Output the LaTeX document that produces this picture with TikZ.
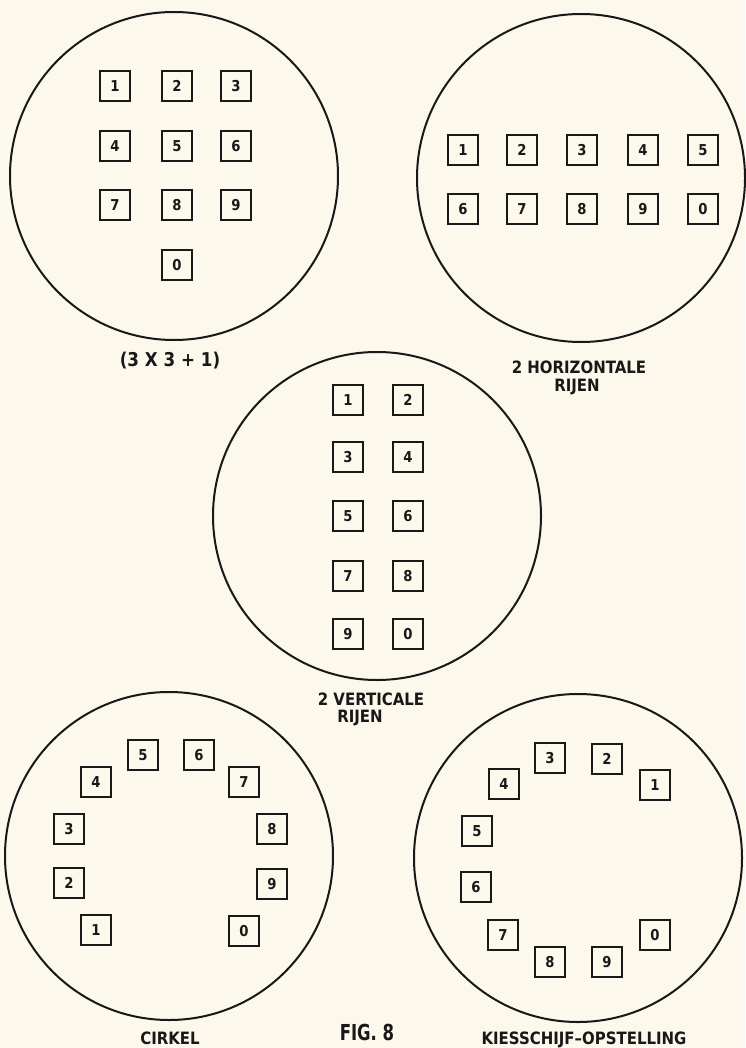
\documentclass[tikz,border=0pt]{standalone}
\usepackage{fontspec}
\setmainfont{DejaVu Sans}
\newfontfamily\lblfont{DejaVu Sans}[FakeStretch=0.88]
\newfontfamily\figfont{DejaVu Sans}[FakeStretch=0.75]
\definecolor{paper}{RGB}{252,248,236}
\definecolor{ink}{RGB}{24,24,24}
\begin{document}
\begin{tikzpicture}[x=1pt,y=-1pt,
  dial/.style={circle, draw=ink, line width=2pt, minimum size=328pt, inner sep=0pt},
  key/.style={rectangle, draw=ink, line width=2pt, minimum size=30pt, inner sep=0pt, text=ink, font=\lblfont\bfseries\fontsize{15}{15}\selectfont},
  lbl/.style={text=ink, inner sep=0pt, font=\lblfont\bfseries\fontsize{17}{17}\selectfont},
  figlbl/.style={text=ink, inner sep=0pt, font=\figfont\bfseries\fontsize{22}{22}\selectfont}]
\path[use as bounding box, fill=paper] (0,0) rectangle (745,1048);

% --- 3x3+1 ---
\node[dial] (c1) at (174,176) {};
\node[key] (a1) at (115,86) {1};
\node[key] (a2) at (177,86) {2};
\node[key] (a3) at (236,86) {3};
\node[key] (a4) at (115,146) {4};
\node[key] (a5) at (177,146) {5};
\node[key] (a6) at (236,146) {6};
\node[key] (a7) at (115,205) {7};
\node[key] (a8) at (177,205) {8};
\node[key] (a9) at (236,205) {9};
\node[key] (a0) at (177,265) {0};
\node[lbl, font=\lblfont\bfseries\fontsize{19}{19}\selectfont] (l1) at (170,361) {(3 X 3 + 1)};

% --- 2 horizontale rijen ---
\node[dial] (c2) at (581,178) {};
\node[key] (b1) at (463,150) {1};
\node[key] (b2) at (522,150) {2};
\node[key] (b3) at (582,150) {3};
\node[key] (b4) at (643,150) {4};
\node[key] (b5) at (703,150) {5};
\node[key] (b6) at (463,209) {6};
\node[key] (b7) at (522,209) {7};
\node[key] (b8) at (582,209) {8};
\node[key] (b9) at (643,209) {9};
\node[key] (b0) at (703,209) {0};
\node[lbl] (l2a) at (579,367) {2 HORIZONTALE};
\node[lbl] (l2b) at (577,387) {RIJEN};

% --- 2 verticale rijen ---
\node[dial] (c3) at (377,516) {};
\node[key] (d1) at (348,400) {1};
\node[key] (d2) at (408,400) {2};
\node[key] (d3) at (348,457) {3};
\node[key] (d4) at (408,457) {4};
\node[key] (d5) at (348,516) {5};
\node[key] (d6) at (408,516) {6};
\node[key] (d7) at (348,576) {7};
\node[key] (d8) at (408,576) {8};
\node[key] (d9) at (348,634) {9};
\node[key] (d0) at (408,634) {0};
\node[lbl] (l3a) at (371,699) {2 VERTICALE};
\node[lbl] (l3b) at (360,718) {RIJEN};

% --- cirkel ---
\node[dial] (c4) at (169,856) {};
\node[key] (e1) at (96,930) {1};
\node[key] (e2) at (69,883) {2};
\node[key] (e3) at (69,829) {3};
\node[key] (e4) at (96,782) {4};
\node[key] (e5) at (143,755) {5};
\node[key] (e6) at (199,755) {6};
\node[key] (e7) at (244,782) {7};
\node[key] (e8) at (272,829) {8};
\node[key] (e9) at (272,884) {9};
\node[key] (e0) at (244,931) {0};
\node[lbl] (l4) at (170,1038) {CIRKEL};

\node[figlbl] (fig) at (367,1032) {FIG. 8};

% --- kiesschijf-opstelling ---
\node[dial] (c5) at (578,858) {};
\node[key] (f1) at (655,785) {1};
\node[key] (f2) at (607,759) {2};
\node[key] (f3) at (550,758) {3};
\node[key] (f4) at (504,784) {4};
\node[key] (f5) at (477,831) {5};
\node[key] (f6) at (476,887) {6};
\node[key] (f7) at (503,935) {7};
\node[key] (f8) at (550,962) {8};
\node[key] (f9) at (607,962) {9};
\node[key] (f0) at (655,935) {0};
\node[lbl] (l5) at (584,1040) {KIESSCHIJF–OPSTELLING};
\end{tikzpicture}
\end{document}
